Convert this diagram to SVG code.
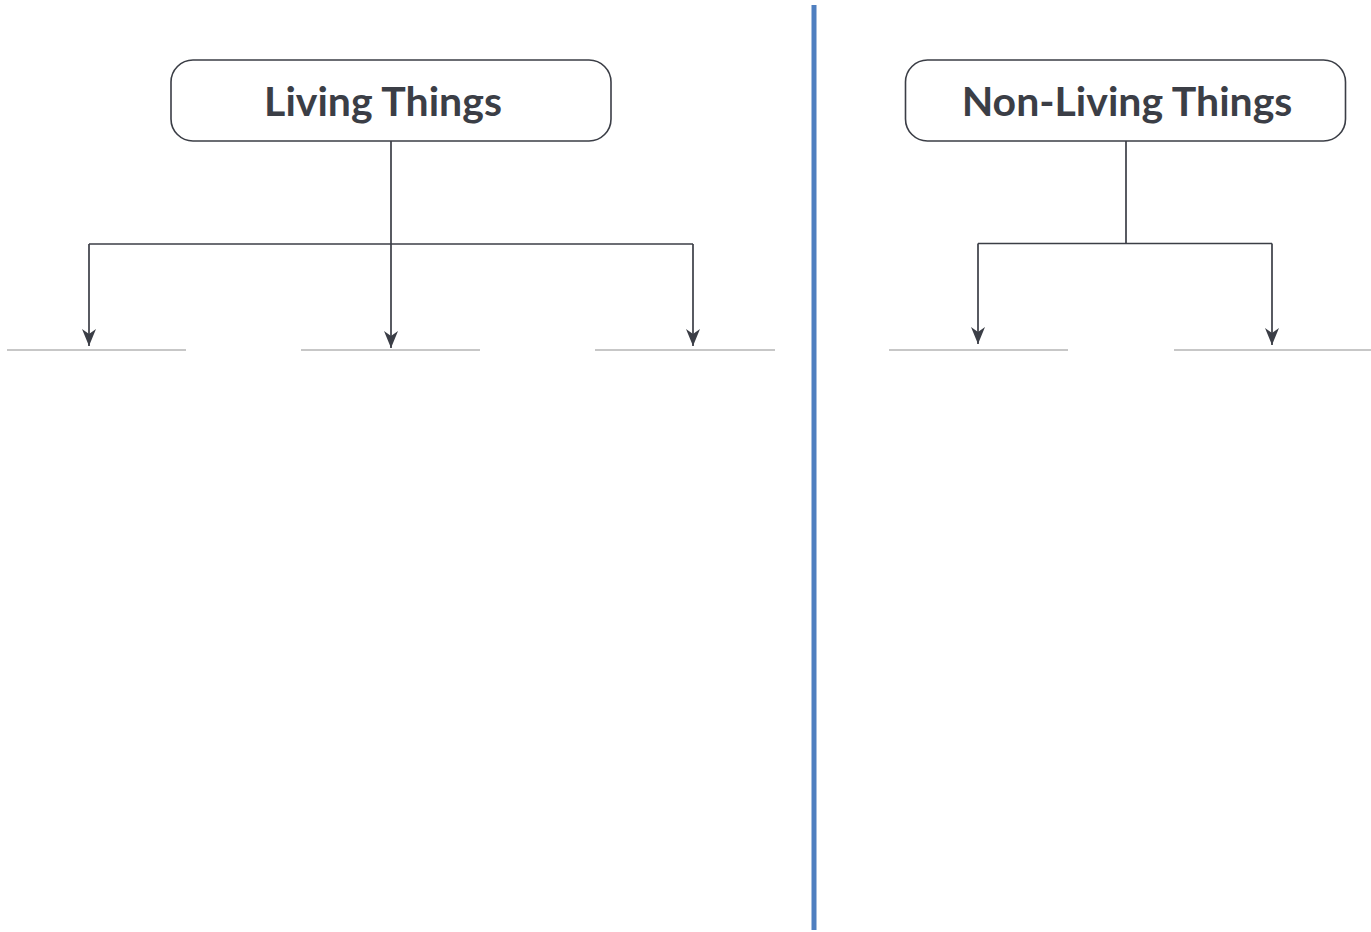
<svg xmlns="http://www.w3.org/2000/svg" width="1371" height="932" viewBox="0 0 1371 932">
<style>
.box{fill:#fff;stroke:#3b3e46;stroke-width:1.6}
.title{font-family:Lato,"Open Sans",sans-serif;font-weight:bold;font-size:41px;fill:#3b3e46;text-anchor:middle}
.conn{fill:none;stroke:#3b3e46;stroke-width:1.7}
.blank{stroke:#b4b4b4;stroke-width:1.3}
</style>
<defs>
<marker id="arr" viewBox="0 0 17 14" refX="17" refY="7" markerWidth="17" markerHeight="14" markerUnits="userSpaceOnUse" orient="auto">
<path d="M0,0 L5,7 L0,14 L17,7 Z" fill="#3b3e46"/>
</marker>
</defs>
<rect width="1371" height="932" fill="#fff"/>
<line x1="814" y1="5" x2="814" y2="930" stroke="#4f7fc0" stroke-width="5"/>
<g id="living">
<rect class="box" x="171" y="60" width="440" height="81" rx="22"/>
<text class="title" x="383" y="116">Living Things</text>
</g>
<g id="nonliving">
<rect class="box" x="905.5" y="60" width="440" height="81" rx="22"/>
<text class="title" x="1127" y="116">Non-Living Things</text>
</g>
<g id="blanks">
<line class="blank" x1="7" y1="350" x2="186" y2="350"/>
<line class="blank" x1="301" y1="350" x2="480" y2="350"/>
<line class="blank" x1="595" y1="350" x2="775" y2="350"/>
<line class="blank" x1="889" y1="350" x2="1068" y2="350"/>
<line class="blank" x1="1174" y1="350" x2="1371" y2="350"/>
</g>
<g id="connectors">
<path class="conn" d="M391,141 V244"/>
<path class="conn" d="M89,244 H693"/>
<path class="conn" d="M89,244 V346" marker-end="url(#arr)"/>
<path class="conn" d="M391,244 V348" marker-end="url(#arr)"/>
<path class="conn" d="M693,244 V346" marker-end="url(#arr)"/>
<path class="conn" d="M1126,141 V243.5"/>
<path class="conn" d="M978,243.5 H1272"/>
<path class="conn" d="M978,243.5 V344" marker-end="url(#arr)"/>
<path class="conn" d="M1272,243.5 V345" marker-end="url(#arr)"/>
</g>
</svg>
